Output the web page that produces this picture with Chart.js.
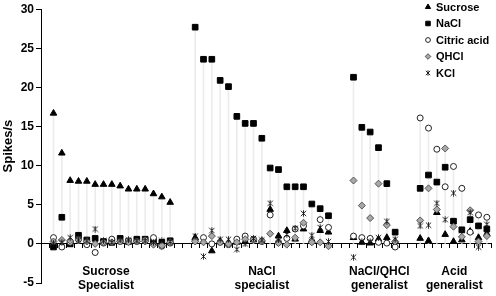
<!DOCTYPE html>
<html><head><meta charset="utf-8">
<script src="https://cdn.jsdelivr.net/npm/chart.js@4.4.0/dist/chart.umd.min.js"></script>
<style>html,body{margin:0;padding:0;background:#fff;}#wrap{width:496px;height:296px;position:relative;}</style>
</head><body><div id="wrap"><canvas id="c"></canvas></div>
<script>
// 54 category slots: leading blank, 4 neuron groups separated by 2 blank slots
const categories = ['',
 'S1','S2','S3','S4','S5','S6','S7','S8','S9','S10','S11','S12','S13','S14','S15',
 '','',
 'N1','N2','N3','N4','N5','N6','N7','N8','N9','N10','N11','N12','N13','N14','N15','N16','N17',
 '','',
 'G1','G2','G3','G4','G5','G6',
 '','',
 'A1','A2','A3','A4','A5','A6','A7','A8','A9'];

const sucrose = [null,
 16.7, 11.6, 8.1, 8.0, 8.0, 7.6, 7.6, 7.6, 7.4, 7.0, 7.0, 7.0, 6.4, 6.0, 5.3,
 null, null,
 0.8, 0.3, -0.9, 0.3, 0.1, 0.2, 0.3, 0.5, 0.3, 4.4, 1.0, 1.7, 0.6, 1.9, 0.4, 1.7, 1.5,
 null, null,
 0.8, 0.2, 0.1, 0.6, 0.8, 0.3,
 null, null,
 0.7, 0.4, 4.0, 1.2, 0.3, 0.5, 1.6, 0.8, 1.3];

const nacl = [null,
 -0.4, 3.4, 0.0, 1.1, 0.5, 0.7, 0.3, 0.2, 0.7, 0.3, 0.6, 0.6, 0.3, 0.2, 0.4,
 null, null,
 27.7, 23.6, 23.6, 20.9, 20.1, 16.3, 15.4, 15.4, 13.5, 9.7, 9.5, 7.3, 7.3, 7.3, 5.1, 4.5, 3.6,
 null, null,
 21.3, 14.9, 14.3, 12.3, 7.7, 1.5,
 null, null,
 7.1, 8.8, 7.9, 9.8, 2.9, 1.8, 3.1, 2.3, 1.9];

const citric = [null,
 0.8, -0.4, 0.2, 0.6, -0.1, -1.1, 0.1, 0.6, 0.3, 0.4, 0.3, 0.5, 0.8, -0.3, 0.1,
 null, null,
 0.4, 0.8, 0.0, 0.2, -0.1, 0.6, 1.0, 0.6, 0.3, 3.7, 0.2, 0.7, 1.9, 2.3, 0.3, 3.1, 2.1,
 null, null,
 1.0, 0.8, 0.7, 0.2, 0.1, -0.4,
 null, null,
 16.1, 14.8, 12.1, 7.3, 9.9, 7.1, 1.5, 3.7, 3.4];

const qhcl = [null,
 0.3, 0.5, 0.4, 0.5, 0.3, 0.0, 0.2, 0.2, 0.3, 0.2, 0.3, 0.3, -0.1, -0.2, 0.2,
 null, null,
 0.3, 0.2, 1.0, 0.2, 0.0, 0.2, 0.6, 0.6, 0.4, 1.3, 0.1, -0.1, 0.8, 2.7, 0.2, 0.2, -0.3,
 null, null,
 8.1, 4.9, 3.3, 7.7, 2.4, 0.3,
 null, null,
 3.0, 7.1, 4.4, 12.2, 2.2, 0.9, 4.3, 0.3, 1.0];

const kcl = [null,
 0.1, 0.2, 0.8, 0.5, 0.4, 1.9, 0.4, 0.2, 0.5, 0.5, 0.4, 0.4, 0.2, 0.4, 0.3,
 null, null,
 1.0, -1.6, 1.7, 0.6, 0.6, -0.7, 0.0, 0.7, 0.5, 5.2, 0.5, 1.2, 2.0, 3.9, 1.1, 2.1, 0.3,
 null, null,
 -1.7, 0.3, 0.3, 0.8, 2.9, 0.6,
 null, null,
 2.3, 2.4, 5.2, 3.1, 6.5, 1.7, 4.0, -0.4, 2.5];

const seriesNames = ['Sucrose', 'NaCl', 'Citric acid', 'QHCl', 'KCl'];
const groupNames = [['Sucrose', 'Specialist'], ['NaCl', 'specialist'], ['NaCl/QHCl', 'generalist'], ['Acid', 'generalist']];
const yTicks = [-5, 0, 5, 10, 15, 20, 25, 30];

// drop lines from zero to the highest response of each neuron
const allSeries = [sucrose, nacl, citric, qhcl, kcl];
const stems = categories.map((_, i) => {
  const v = allSeries.map(s => s[i]).filter(x => x !== null);
  return v.length ? [0, Math.max(...v)] : null;
});

const FONT = 'Liberation Sans, Arial, Helvetica, sans-serif';

function makeStar(n) {
  const c = document.createElement('canvas');
  c.width = n; c.height = n;
  const g = c.getContext('2d');
  g.strokeStyle = '#111'; g.lineWidth = 0.9;
  g.beginPath();
  g.moveTo(0.8, 0.8); g.lineTo(n - 0.8, n - 0.8);
  g.moveTo(n - 0.8, 0.8); g.lineTo(0.8, n - 0.8);
  g.moveTo(n / 2, 0.3); g.lineTo(n / 2, n - 0.3);
  g.stroke();
  return c;
}
const star = makeStar(7);
const starSmall = makeStar(6);

const styles = [
  { pointStyle: 'triangle', pointRadius: 3.8, backgroundColor: '#000', borderColor: '#000', borderWidth: 1 },
  { pointStyle: 'rect', pointRadius: 4.0, backgroundColor: '#000', borderColor: '#000', borderWidth: 1 },
  { pointStyle: 'circle', pointRadius: 3.0, backgroundColor: '#fff', borderColor: '#222', borderWidth: 1 },
  { pointStyle: 'rectRot', pointRadius: 3.5, backgroundColor: '#a8a8a8', borderColor: '#555', borderWidth: 1 },
  { pointStyle: star, pointRadius: 3.5, backgroundColor: '#000', borderColor: '#000', borderWidth: 1 }
];

const markerSets = allSeries.map((data, i) => Object.assign({
  type: 'line', label: seriesNames[i], data: data, showLine: false,
  pointHoverRadius: styles[i].pointRadius, order: 5 - i
}, styles[i]));

const overlay = {
  id: 'overlay',
  afterDraw(chart) {
    const ctx = chart.ctx, xs = chart.scales.x;
    ctx.save();
    // group labels
    ctx.fillStyle = '#000';
    ctx.font = 'bold 12px ' + FONT;
    ctx.textAlign = 'center'; ctx.textBaseline = 'middle';
    const centers = [7.3, 26.0, 40.1, 49.1];
    groupNames.forEach((lines, i) => {
      const x = xs.getPixelForValue(centers[i]);
      ctx.fillText(lines[0], x, 272);
      ctx.fillText(lines[1], x, 286);
    });
    // legend
    ctx.font = 'bold 11px ' + FONT;
    ctx.textAlign = 'left';
    const rows = [7, 23.5, 40, 56.5, 73];
    markerSets.forEach((ds, i) => {
      ctx.fillStyle = ds.backgroundColor;
      ctx.strokeStyle = ds.borderColor;
      ctx.lineWidth = ds.borderWidth;
      const ps = i === 4 ? starSmall : ds.pointStyle;
      Chart.helpers.drawPoint(ctx, { pointStyle: ps, radius: ds.pointRadius * 0.8, rotation: 0, borderWidth: ds.borderWidth }, 428, rows[i]);
      ctx.fillStyle = '#000';
      ctx.fillText(seriesNames[i], 436, rows[i] + 0.5);
    });
    ctx.restore();
  }
};

new Chart(document.getElementById('c'), {
  type: 'bar',
  data: {
    labels: categories,
    datasets: [
      { type: 'bar', label: 'stems', data: stems, backgroundColor: '#ececec', borderWidth: 0, barThickness: 1, order: 10 },
      ...markerSets
    ]
  },
  options: {
    responsive: true, maintainAspectRatio: false, animation: false,
    layout: { padding: { top: 8, bottom: 13, left: 0, right: 2 } },
    plugins: { legend: { display: false }, tooltip: { enabled: false } },
    scales: {
      x: {
        type: 'category', position: { y: 0 }, offset: true,
        grid: { display: true, drawOnChartArea: false, drawTicks: true, tickLength: 4, color: '#000', offset: true },
        border: { display: true, color: '#000', width: 1 },
        ticks: { display: false }
      },
      y: {
        position: 'left', min: -5, max: 30,
        afterBuildTicks(s) { s.ticks = yTicks.map(v => ({ value: v })); },
        afterFit(s) { s.width = 41; },
        ticks: { color: '#000', font: { family: FONT, size: 12, weight: 'bold' }, padding: 2 },
        grid: { drawOnChartArea: false, drawTicks: true, tickLength: 5, color: '#000' },
        border: { display: true, color: '#000', width: 1 },
        title: { display: true, text: 'Spikes/s', color: '#000', font: { family: FONT, size: 13, weight: 'bold' }, padding: { top: 1, bottom: 0 } }
      }
    }
  },
  plugins: [overlay]
});
</script></body></html>
